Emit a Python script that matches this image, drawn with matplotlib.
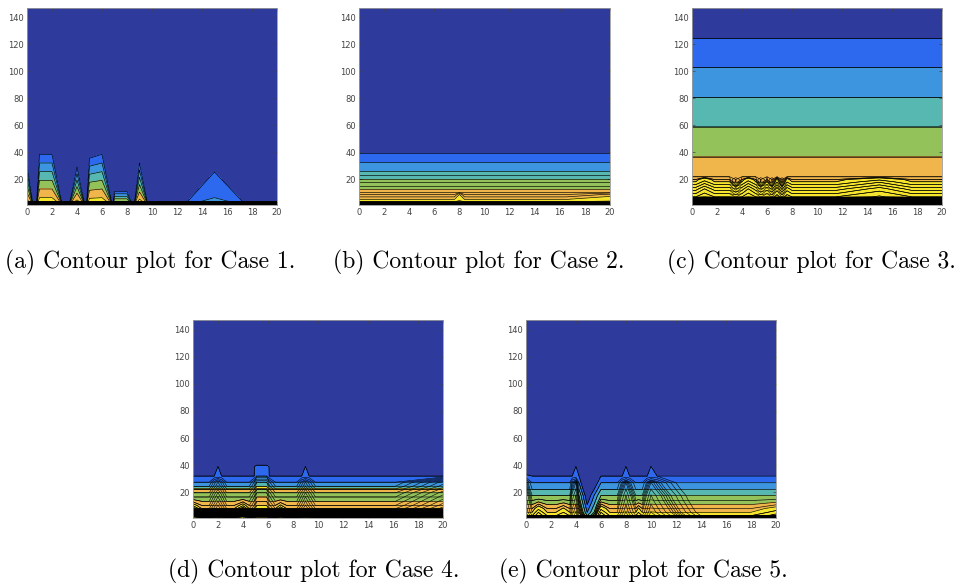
import numpy as np
import matplotlib.pyplot as plt

# parula-like band colours
palette = ['#2F3A9D', '#2D69EE', '#3D95E0', '#56B8B0', '#93C25B', '#F1B64B', '#F5E52C']

# ---- Case 1: peaks (height where the field dies out, strength at the bottom) ----
x_a = [0, 0.5, 0.75, 1, 2, 2.85, 3.35, 4, 4.65, 4.75, 5, 6, 6.85, 7, 8, 8.5, 8.55, 9, 9.7, 12.5, 15, 17.6, 20]
h_a = [36, 0, 0, 45, 45, 0, 0, 34, 0, 0, 41.6, 45, 0, 13, 13, 0, 0, 37.5, 0, 0, 44.5, 0, 0]
s_a = [7, 7, 7, 7, 7, 7, 7, 7, 7, 7, 7, 7, 7, 7, 7, 7, 7, 7, 7, 2.34, 2.34, 2.34, 2.34]
y_a = [1, 3.5, 147]
base_a = [36, 0, 0]
lv_a = [-100, 1, 2, 3, 4, 5, 6] + list(range(7, 41)) + [200]
idx_a = [0, 1, 2, 3, 4, 5]

# ---- Case 2 ----
x_b = [0, 7.6, 8, 8.4, 16.5, 20]
amp_b = [0, 0, 0.5, 0, 0, 0.3]
y_b = [1, 3.4, 5.1, 7.0, 8.8, 10.8, 12.7, 15.2, 18, 19.9, 23.5, 26.4, 32.8, 39.2, 147]
base_b = [40, 7, 6, 5.75, 5.5, 5.25, 5, 4.67, 4.33, 4, 3.5, 3, 2, 1, 0]
prof_b = [1, 1, 1, 1, 1, 0, 0, 0, 0, 0, 0, 0, 0, 0, 0]
lv_b = [-100, 1, 2, 3, 3.5, 4, 4.33, 4.67, 5, 5.25, 5.5, 5.75, 6] + list(range(7, 41)) + [200]
idx_b = [0, 1, 2, 3, 3, 4, 4, 4, 5, 5, 5, 5]

# ---- Case 3 ----
x_c = [0, 0.3, 1, 1.8, 3.0, 3.5, 4.0, 4.5, 5.1, 5.5, 6.0, 6.4, 6.8, 7.2, 7.6, 8.0, 11.5, 15, 17.6, 20]
amp_c = [0, 0, 1.5, 0, 0, -0.5, 0, 1.5, 0, -0.5, 0, -0.5, 1.0, -0.5, 1.0, 0, 0, 2, 0, 0]
line_amp_c = [0, 0, 0, 0, 0, -1.6, 0, 0, 0, -1.6, 0, -1.6, 0, -1.6, 0, 0, 0, 0, 0, 0]
y_c = [1, 7, 13, 18.2, 19.9, 21.9, 36.7, 59, 81, 103, 125, 147]
base_c = [40, 11, 8.5, 6, 5.75, 5.5, 5, 4, 3, 2, 1, 0]
prof_c = [0, 0.6, 1, 0.9, 0.5, 0, 0, 0, 0, 0, 0, 0]
line_prof_c = [0, 0.5, 1, 1, 1, 0, 0, 0, 0, 0, 0, 0]
lv_c = [-100, 1, 2, 3, 4, 5, 5.5, 5.75, 6] + list(range(7, 41)) + [200]
idx_c = [0, 1, 2, 3, 4, 5, 5, 5]

# ---- Case 4 ----
x_d = [0, 0.7, 1.3, 1.7, 2, 2.3, 2.7, 3.3, 4, 4.5, 4.9, 5.1, 5.9, 6.1, 6.6, 7, 7.5, 8.3, 8.7, 9, 9.3, 9.8, 16.2, 20]
amp_d = [0, 0, 0, 0, 0.062, 0, 0, 0, 0, 0, 0, 1.0, 1.0, 0, 0, 0, 0, 0, 0, 0.062, 0, 0, 0, 0]
low_amp_d = [3, 0, 0, 0, 0, 0, 0, 0, 3, 0, 0, 0, 0, 0, 0, 2, 0, 0, 0, 0, 0, 0, 0, 0]
fan_d = [0, 0, 0, 2.4, 4, 2.4, 0, 0, 0, 0, 2, 3, 3, 2.3, 0, 0, 0, 0, 2.3, 4, 2.5, 0, 0, 0]
ramp_d = [0, 0, 0, 0, 0, 0, 0, 0, 0, 0, 0, 0, 0, 0, 0, 0, 0, 0, 0, 0, 0, 0, 0, 5.5]
y_d = [1, 7.9, 10.3, 13.3, 16.5, 19.6, 21.9, 22.5, 24.4, 27.4, 31.9, 39, 40, 147]
base_d = [44, 10, 9, 8, 7, 6, 5, 4, 3, 2, 1, 0.94, 0.93, 0]
flat_d = [1, 1, 1, 1, 1, 1, 1, 1, 1, 1, 1, 1, 0, 0]
fan_prof_d = [1, 1, 1, 1, 1, 1, 1, 1, 1, 1, 0, 0, 0, 0]
low_prof_d = [1, 1, 0.6, 0.25, 0, 0, 0, 0, 0, 0, 0, 0, 0, 0]
ramp_prof_d = [1, 1, 1, 1, 1, 1, 1, 1, 1, 1, 0, 0, 0, 0]
lv_d = [-100, 1, 2, 3, 4, 5, 6, 7, 8, 9] + list(range(10, 44)) + [200]
idx_d = [0, 1, 2, 3, 6, 5, 4, 4, 5, 5]

# ---- Case 5 ----
x_e = [0, 0.5, 1, 1.7, 2.4, 3.0, 3.5, 3.7, 4, 4.25, 4.9, 5.5, 6, 6.7, 7.3, 7.7, 8, 8.3, 8.8, 9, 9.3, 9.7, 10, 10.5, 14, 18, 20]
amp_e = [0.01, 0, 0, 0, 0, 0, 0, 0, 0.062, 0, -4, -1.8, 0, 0, 0, 0, 0.062, 0, 0, 0, 0, 0, 0.062, 0, 0, 0, 0]
low_amp_e = [0, 0, 2, 0, 0, 1, 0, 0, 0, 0, 0, 0, 2, 0, 0, 0, 0, 0, 0, 1, 0, 0, 0, 0, 0, 0, 1.5]
fan_e = [3, 0, 0, 0, 0, 0, 0, 2.4, 4, 0, 0, 0, 0, 0, 0, 2.4, 4, 2.4, 0, 0, 0, 2.4, 4, 2.75, -6, -6, -6]
y_e = [1, 2.7, 5.2, 8, 10.9, 13.9, 17.6, 22, 27, 31.9, 39, 40, 147]
base_e = [40, 7, 6, 5.5, 5, 4.5, 4, 3, 2, 1, 0.94, 0.93, 0]
flat_e = [1, 1, 1, 1, 1, 1, 1, 1, 1, 1, 1, 0, 0]
fan_prof_e = [1, 1, 1, 1, 1, 1, 1, 1, 1, 0, 0, 0, 0]
low_prof_e = [1, 1, 1, 0.6, 0.3, 0.1, 0, 0, 0, 0, 0, 0, 0]
lv_e = [-100, 1, 2, 3, 4, 4.5, 5, 5.5, 6] + list(range(7, 41)) + [200]
idx_e = [0, 1, 2, 3, 4, 4, 5, 5]

captions = ['(a) Contour plot for Case 1.', '(b) Contour plot for Case 2.',
            '(c) Contour plot for Case 3.', '(d) Contour plot for Case 4.',
            '(e) Contour plot for Case 5.']


def field(base, families):
    Z = np.array(base, dtype=float)[:, None]
    for amp, prof in families:
        Z = Z + np.array(prof, dtype=float)[:, None] * np.array(amp, dtype=float)[None, :]
    return Z


# Case 1 field on a fine grid
xx_a = np.linspace(0, 20, 801)
yy_a = np.linspace(1, 147, 441)
H = np.interp(xx_a, x_a, h_a)
S = np.interp(xx_a, x_a, s_a)
ratio = np.divide(yy_a[:, None], H[None, :], out=np.full((len(yy_a), len(xx_a)), np.inf),
                  where=H[None, :] > 0)
Z_a = np.interp(yy_a, y_a, base_a)[:, None] + S[None, :] * np.clip(1 - ratio, 0, None)

fam_c = [(amp_c, prof_c)]
fam_d = [(amp_d, flat_d), (low_amp_d, low_prof_d)]
fam_e = [(amp_e, flat_e), (low_amp_e, low_prof_e)]

# (x, y, fill field, extra line field, levels, band colour idx)
panels = [
    (xx_a, yy_a, Z_a, None, lv_a, idx_a),
    (x_b, y_b, field(base_b, [(amp_b, prof_b)]), None, lv_b, idx_b),
    (x_c, y_c, field(base_c, fam_c), field(base_c, fam_c + [(line_amp_c, line_prof_c)]), lv_c, idx_c),
    (x_d, y_d, field(base_d, fam_d),
     field(base_d, fam_d + [(fan_d, fan_prof_d), (ramp_d, ramp_prof_d)]), lv_d, idx_d),
    (x_e, y_e, field(base_e, fam_e), field(base_e, fam_e + [(fan_e, fan_prof_e)]), lv_e, idx_e),
]

boxes = [
    [0.0281, 0.649, 0.2601, 0.3373],
    [0.3736, 0.649, 0.2612, 0.3373],
    [0.7201, 0.649, 0.2601, 0.3373],
    [0.2008, 0.113, 0.2601, 0.339],
    [0.5473, 0.113, 0.2601, 0.339],
]
cap_pos = [(0.156, 0.551), (0.498, 0.551), (0.844, 0.551), (0.326, 0.022), (0.669, 0.022)]

fig = plt.figure(figsize=(9.61, 5.84), dpi=100)

for (x, y, Z, Zl, lv, idx), box, cap, pos in zip(panels, boxes, captions, cap_pos):
    ax = fig.add_axes(box)
    band_cols = [palette[i] for i in idx] + [palette[6]] * (len(lv) - 1 - len(idx))
    ax.contourf(x, y, Z, levels=lv, colors=band_cols)
    ax.contour(x, y, Z, levels=lv, colors='k', linewidths=0.45)
    if Zl is not None:
        ax.contour(x, y, Zl, levels=lv, colors='k', linewidths=0.4)
    ax.set_xlim(0, 20)
    ax.set_ylim(1, 147)
    ax.set_xticks(range(0, 21, 2))
    ax.set_yticks(range(20, 141, 20))
    ax.tick_params(direction='in', length=2.5, width=0.5, labelsize=6,
                   colors='#444444', top=True, right=True, pad=2)
    for s in ax.spines.values():
        s.set_color('#9a9a9a')
        s.set_linewidth(0.6)
    fig.text(pos[0], pos[1], cap, fontsize=17, family='cmr10', ha='center', va='center')

plt.savefig('out.png', dpi=100)
